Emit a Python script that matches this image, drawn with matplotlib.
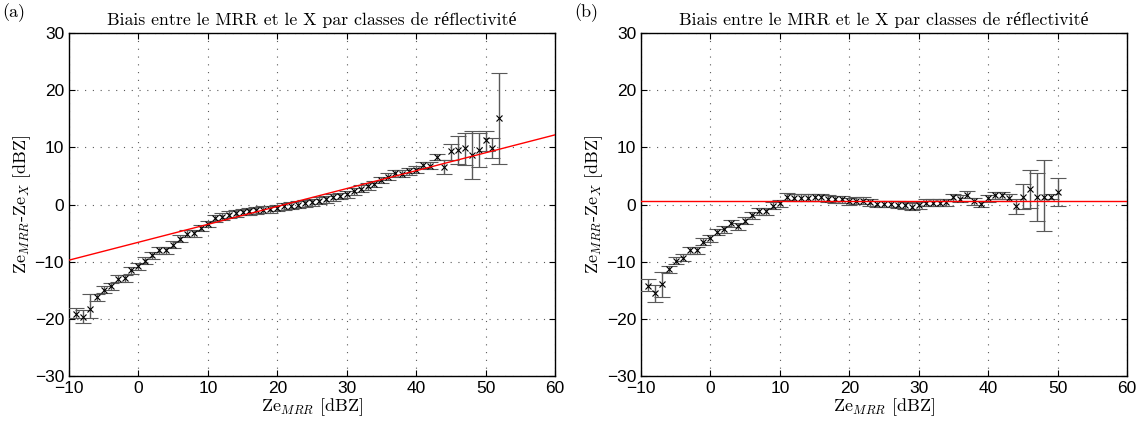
import numpy as np
import matplotlib
matplotlib.use("Agg")
import matplotlib.pyplot as plt

# panel (a): bias vs MRR reflectivity class, with linear fit
xa = np.arange(-9, 53)
ya = [-19.1, -19.7, -18.2, -16.2, -14.9, -14.3, -13.0, -12.9, -11.5, -10.8,
      -9.8, -8.9, -8.0, -8.0, -7.0, -6.0, -5.1, -5.0, -4.1, -3.4,
      -2.4, -2.1, -1.8, -1.5, -1.3, -1.2, -1.0, -0.9, -0.8, -0.6,
      -0.3, -0.2, 0.0, 0.2, 0.4, 0.7, 0.9, 1.3, 1.5, 1.8,
      2.3, 2.8, 3.2, 3.6, 4.3, 4.9, 5.5, 5.4, 5.8, 6.1,
      6.9, 6.8, 8.3, 6.5, 9.3, 9.6, 9.8, 8.6, 9.6, 11.3,
      9.8, 15.1]
ea_lo = [0.8, 1.0, 1.6] + [0.6] * 50 + [1.1, 1.6, 2.5, 2.9, 4.2, 3.0, 1.9, 1.7, 8.0]
ea_hi = [1.0, 1.2, 2.6] + [0.6] * 50 + [1.2, 1.2, 2.3, 2.7, 4.2, 2.9, 1.6, 1.8, 7.9]
fit_a = (0.313, -6.6)  # slope, intercept

# panel (b): bias after correction
xb = np.arange(-9, 51)
yb = [-14.2, -15.5, -13.9, -11.3, -9.8, -9.3, -8.0, -8.0, -6.5, -5.9,
      -4.8, -4.3, -3.3, -3.8, -2.8, -1.9, -1.2, -1.2, -0.2, 0.2,
      1.4, 1.2, 1.2, 1.2, 1.3, 1.3, 1.0, 0.9, 0.9, 0.6,
      0.7, 0.7, 0.4, 0.1, 0.1, 0.1, 0.0, -0.1, -0.35, -0.1,
      0.3, 0.3, 0.3, 0.4, 1.3, 1.0, 1.7, 0.6, 0.1, 1.1,
      1.6, 1.6, 1.2, -0.2, 1.4, 2.7, 1.4, 1.4, 1.4, 2.2]
eb_lo = [1.0, 1.5, 2.2] + [0.6] * 50 + [1.4, 2.2, 3.3, 4.2, 6.1, 0.5, 2.5]
eb_hi = [1.2, 1.5, 2.1] + [0.6] * 50 + [1.2, 2.2, 3.4, 4.2, 6.3, 0.5, 2.4]
level_b = 0.55

title = "Biais entre le MRR et le X par classes de réflectivité"

plt.rcParams['mathtext.fontset'] = 'cm'
plt.rcParams['axes.formatter.use_mathtext'] = False
serif = ['cmr10', 'Liberation Serif']

fig = plt.figure(figsize=(11.44, 4.23), dpi=100)
axes = [fig.add_axes([0.0603, 0.111, 0.4248, 0.811]),
        fig.add_axes([0.5603, 0.111, 0.4248, 0.811])]

panels = [(xa, ya, ea_lo, ea_hi, '(a)'), (xb, yb, eb_lo, eb_hi, '(b)')]
for i, (ax, (x, y, lo, hi, tag)) in enumerate(zip(axes, panels)):
    ax.errorbar(x, y, yerr=[lo, hi], fmt='x', color='black', ecolor='0.35',
                elinewidth=1.0, capsize=5.5, capthick=1.0, markersize=4.5,
                markeredgewidth=0.8, zorder=3)
    xx = np.array([-10, 60])
    if i == 0:
        ax.plot(xx, fit_a[0] * xx + fit_a[1], color='red', lw=1.0, zorder=4)
    else:
        ax.plot(xx, [level_b, level_b], color='red', lw=1.0, zorder=4)
    ax.set_xlim(-10, 60)
    ax.set_ylim(-30, 30)
    ax.set_xticks(np.arange(-10, 61, 10))
    ax.set_yticks(np.arange(-30, 31, 10))
    ax.grid(True, color='0.35', linestyle=(0, (1, 6)), linewidth=0.8)
    ax.tick_params(direction='in', top=True, right=True, length=4,
                   labelsize=12.5)
    for lab in ax.get_xticklabels() + ax.get_yticklabels():
        lab.set_family('Liberation Sans')
    for s in ax.spines.values():
        s.set_linewidth(1.0)
    ax.set_title(title, family=serif, fontsize=12.8, pad=6)
    ax.set_xlabel(r'Ze$_{MRR}$ [dBZ]', family=serif, fontsize=13, labelpad=0)
    ax.set_ylabel(r'Ze$_{MRR}$-Ze$_{X}$ [dBZ]', family=serif, fontsize=13,
                  labelpad=1)
    ax.text(-0.138, 1.045, tag, transform=ax.transAxes, family=serif,
            fontsize=13)

fig.savefig('out.png', dpi=100)
